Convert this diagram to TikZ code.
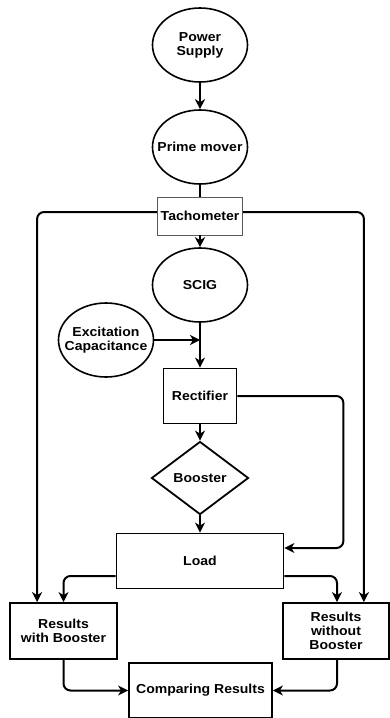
\documentclass[tikz,border=0pt]{standalone}
\usepackage{fontspec}
\setmainfont{Liberation Sans}[FakeStretch=1.08]
\usetikzlibrary{shapes.geometric,arrows.meta,calc}
\begin{document}
\begin{tikzpicture}[x=1pt,y=-1pt,
  every node/.style={font=\fontsize{13}{14}\selectfont\bfseries, align=center, inner sep=0pt, text=black},
  ell/.style={draw, ellipse, line width=1.6pt, minimum width=95pt, minimum height=74pt, inner xsep=-14pt, inner ysep=-6pt},
  box/.style={draw, rectangle, line width=1.8pt},
  arr/.style={line width=2pt, -{Stealth[length=10pt,width=10pt,inset=3pt]}},
  ln/.style={line width=2pt},
  rc/.style={rounded corners=7pt}]
\useasboundingbox (0,0) rectangle (389,718);
\node[ell] (ps) at (200,45) {Power\\Supply};
\node[ell] (pm) at (200,147) {Prime mover};
\node[draw, line width=0.9pt, draw=black!65, minimum width=85pt, minimum height=38pt, fill=white] (tach) at (200,216) {Tachometer};
\node[ell] (scig) at (200,285) {SCIG};
\node[ell] (exc) at (106,340) {Excitation\\Capacitance};
\node[box, minimum width=73pt, minimum height=55pt] (rect) at (200,396) {Rectifier};
\node[draw, diamond, line width=1.8pt, minimum width=97pt, minimum height=73pt] (boost) at (200,478) {Booster};
\node[box, minimum width=167pt, minimum height=55pt] (load) at (200,561) {Load};
\node[box, minimum width=107pt, minimum height=56pt] (rwb) at (63.5,631) {Results\\with Booster};
\node[box, minimum width=106pt, minimum height=56pt] (rwob) at (336,631) {Results\\without\\Booster};
\node[box, minimum width=143pt, minimum height=55pt] (cmp) at (200.5,690.5) {Comparing Results};

\draw[arr] (ps) -- (pm);
\draw[ln] (pm) -- (tach);
\draw[arr] (tach) -- (scig);
\draw[arr, rc] ($(tach.west)+(0,-4)$) -| ($(rwb.north west)+(28,0)$);
\draw[arr, rc] ($(tach.east)+(0,-4)$) -| ($(rwob.north east)+(-26,0)$);
\draw[arr] (scig) -- (rect);
\draw[arr] (exc.east) -- (exc.east -| rect.north);
\draw[arr] (rect) -- (boost);
\draw[arr, rc] (rect.east) -| ($(load.east)+(59,-13)$) -- ($(load.east)+(0,-13)$);
\draw[arr] (boost) -- (load);
\draw[arr, rc] ($(load.west)+(0,15)$) -| (rwb.north);
\draw[arr, rc] ($(load.east)+(0,15)$) -| ($(rwob.north)+(1,0)$);
\draw[arr, rc] (rwb.south) |- (cmp.west);
\draw[arr, rc] ($(rwob.south)+(1,0)$) |- (cmp.east);
\end{tikzpicture}
\end{document}
